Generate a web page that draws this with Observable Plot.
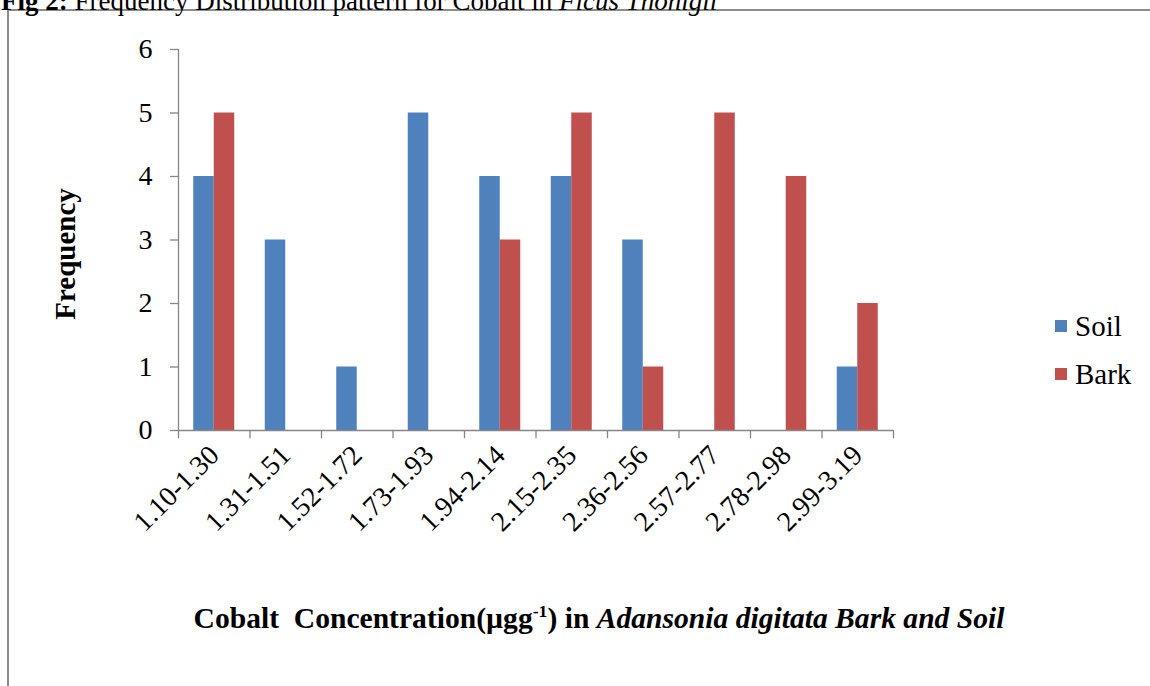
<!DOCTYPE html>
<html>
<head>
<meta charset="utf-8">
<script src="https://cdn.jsdelivr.net/npm/d3@7"></script>
<script src="https://cdn.jsdelivr.net/npm/@observablehq/plot@0.6"></script>
<style>
  html, body { margin: 0; padding: 0; background: #fff; }
  body { width: 1150px; height: 686px; overflow: hidden; position: relative; font-family: "Liberation Serif", "Times New Roman", serif; }
  #title { position: absolute; left: 1px; top: -14px; font-size: 27px; white-space: nowrap; color: #000; }
  #frame { position: absolute; left: 7px; top: 9px; width: 1160px; height: 700px; border: 2px solid #8c8c8c; box-sizing: border-box; }
  #chart { position: absolute; left: 0; top: 0; }
  #chart svg text { font-size: 28px !important; font-family: "Liberation Serif", "Times New Roman", serif !important; }
  #ytitle { position: absolute; left: 65px; top: 254px; transform: translate(-50%, -50%) rotate(-90deg); font-size: 29px; font-weight: bold; white-space: nowrap; }
  #xtitle { position: absolute; left: 599px; top: 618px; transform: translate(-50%, -50%) scaleX(1.02); font-size: 29px; font-weight: bold; white-space: nowrap; }
  #legend { position: absolute; left: 1055px; top: 302px; font-size: 29px; }
  .li { display: flex; align-items: center; height: 48px; }
  .sw { width: 12px; height: 12px; margin-right: 8px; }
</style>
</head>
<body>
<div id="frame"></div>
<div id="title"><b>Fig 2:</b> Frequency Distribution pattern for Cobalt in <i>Ficus Thonigii</i></div>
<div id="chart"></div>
<div id="ytitle">Frequency</div>
<div id="xtitle">Cobalt&nbsp; Concentration(µgg<sup style="font-size:0.6em">-1</sup>) in <i>Adansonia digitata Bark and Soil</i></div>
<div id="legend"></div>
<script>
const categories = ["1.10-1.30","1.31-1.51","1.52-1.72","1.73-1.93","1.94-2.14","2.15-2.35","2.36-2.56","2.57-2.77","2.78-2.98","2.99-3.19"];
const soil = [4, 3, 1, 5, 4, 4, 3, 0, 0, 1];
const bark = [5, 0, 0, 0, 3, 5, 1, 5, 4, 2];
const seriesNames = ["Soil", "Bark"];
const seriesColors = ["#4F81BD", "#C0504D"];
const yTicks = [0, 1, 2, 3, 4, 5, 6];

const soilData = categories.map((c, i) => ({range: c, value: soil[i]}));
const barkData = categories.map((c, i) => ({range: c, value: bark[i]}));

const marginLeft = 178, marginRight = 257, marginTop = 49, marginBottom = 256;
const plotW = 1150 - marginLeft - marginRight;
const step = plotW / categories.length;
const pInner = 1 - 20.5 / step;
const axisColor = "#868686";

const chart = Plot.plot({
  width: 1150,
  height: 686,
  marginLeft, marginRight, marginTop, marginBottom,
  style: {fontFamily: "Liberation Serif, Times New Roman, serif", background: "transparent", color: "#000", fontSize: "28px"},
  x: {domain: categories, paddingInner: pInner, paddingOuter: pInner / 2, align: 0.5, round: false, axis: null},
  y: {domain: [0, 6], axis: null},
  marks: [
    Plot.barY(soilData, {x: "range", y: "value", fill: seriesColors[0], dx: -step * (1 - pInner) / 2}),
    Plot.barY(barkData, {x: "range", y: "value", fill: seriesColors[1], dx: step * (1 - pInner) / 2}),
    Plot.ruleY([0], {stroke: axisColor, strokeWidth: 1.3}),
    Plot.ruleX([categories[0]], {y1: 0, y2: 6, dx: -step / 2, stroke: axisColor, strokeWidth: 1.3}),
    Plot.ruleX(categories, {y1: 0, y2: -0.13, dx: -step / 2, stroke: axisColor, strokeWidth: 1.3}),
    Plot.ruleX([categories[categories.length - 1]], {y1: 0, y2: -0.13, dx: step / 2, stroke: axisColor, strokeWidth: 1.3}),
    Plot.axisY({ticks: yTicks, tickSize: 8, tickPadding: 18, fontSize: 28, stroke: axisColor, strokeWidth: 1.3, label: null, tickFormat: d => String(d)}),
    Plot.axisX({tickRotate: -45, tickSize: 0, tickPadding: 16, fontSize: 28, dy: 4, label: null})
  ]
});
document.getElementById("chart").appendChild(chart);

const legend = document.getElementById("legend");
seriesNames.forEach((n, i) => {
  const row = document.createElement("div");
  row.className = "li";
  row.innerHTML = `<span class="sw" style="background:${seriesColors[i]}"></span><span>${n}</span>`;
  legend.appendChild(row);
});
</script>
</body>
</html>
